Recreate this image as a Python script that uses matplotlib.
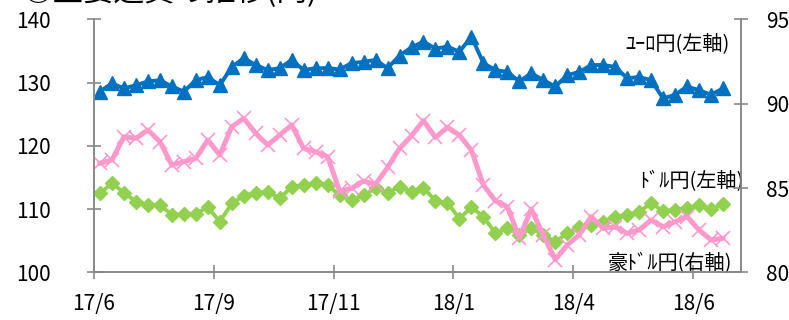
import numpy as np
import matplotlib
matplotlib.use("Agg")
import matplotlib.pyplot as plt

plt.rcParams['font.family'] = ['Noto Sans CJK JP', 'DejaVu Sans']

# weekly closes, left axis (yen)
usdjpy = [112.5, 114.1, 112.6, 111.2, 110.65, 110.65, 109.1, 109.2, 109.3, 110.3,
          108.0, 110.9, 112.1, 112.6, 112.75, 111.7, 113.5, 113.8, 114.2, 113.8,
          112.2, 111.4, 112.2, 113.3, 112.6, 113.5, 112.75, 113.4, 111.3, 111.0,
          108.5, 110.3, 108.8, 106.2, 107.0, 105.9, 107.0, 105.9, 104.8, 106.2,
          107.2, 107.5, 108.0, 108.8, 109.1, 109.6, 110.9, 109.7, 109.9, 110.1,
          110.65, 110.0, 110.8]
eurjpy = [128.6, 129.9, 129.1, 129.6, 130.2, 130.4, 129.4, 128.6, 130.4, 130.9,
          129.6, 132.5, 133.9, 132.8, 132.0, 132.3, 133.6, 132.0, 132.3, 132.3,
          132.1, 133.1, 133.3, 133.6, 132.3, 134.3, 135.6, 136.5, 135.4, 135.7,
          134.9, 137.3, 133.1, 132.0, 131.7, 130.2, 131.5, 130.4, 129.4, 131.2,
          131.7, 132.8, 132.8, 132.5, 130.7, 130.9, 130.4, 127.5, 128.1, 129.4,
          128.8, 128.1, 129.1]
# right axis
audjpy = [86.47, 86.66, 88.04, 87.95, 88.44, 87.75, 86.36, 86.56, 86.76, 87.85,
          86.96, 88.64, 89.13, 88.24, 87.55, 88.14, 88.74, 87.35, 87.15, 86.86,
          84.83, 84.98, 85.42, 85.23, 86.22, 87.35, 88.1, 89.0, 88.0, 88.6,
          88.14, 87.25, 85.18, 84.24, 83.89, 82.06, 83.75, 82.21, 80.75, 81.62,
          82.21, 83.30, 82.61, 82.70, 82.31, 82.51, 83.10, 82.70, 83.00, 83.30,
          82.51, 81.92, 82.02]
tick_labels = ["17/6", "17/9", "17/11", "18/1", "18/4", "18/6"]

x = np.arange(len(usdjpy))
axis_gray = "#898989"

fig = plt.figure(figsize=(7.89, 3.2), dpi=100)
ax = fig.add_axes([94/789, 1 - 272.3/320, (741 - 94)/789, (272.3 - 19.5)/320])
ax2 = ax.twinx()

ax.plot(x, usdjpy, "-", color="#92D050", lw=2.8, marker="D", ms=6.8,
        mec="#92D050", mfc="#92D050")
ax.plot(x, eurjpy, "-", color="#0070C0", lw=2.8, marker="^", ms=9.5,
        mec="#0070C0", mfc="#0070C0")
ax2.plot(x, audjpy, "-", color="#FF99CC", lw=3.6, marker="x", ms=10,
         mew=1.2, mec="#FF99CC")

ax.set_xlim(-0.5, 53.5)
ax.set_ylim(100, 140)
ax2.set_ylim(80, 95)
ax.set_yticks([100, 110, 120, 130, 140])
ax2.set_yticks([80, 85, 90, 95])
ax.set_xticks(np.arange(6)*10 - 0.5)
ax.set_xticklabels(tick_labels)

for a in (ax, ax2):
    a.spines["top"].set_visible(False)
    for s in ("left", "right", "bottom"):
        a.spines[s].set_color(axis_gray)
        a.spines[s].set_linewidth(1.2)
    a.tick_params(direction="inout", length=10, width=1.2, color=axis_gray,
                  labelsize=15, pad=4)
ax.tick_params(axis="y", pad=26)
ax.tick_params(axis="x", pad=10)
ax2.tick_params(axis="y", pad=13)

ax.text(0.983, 0.905, "ﾕｰﾛ円(左軸)", transform=ax.transAxes, ha="right",
        va="center", fontsize=14.5)
ax.text(1.004, 0.357, "ﾄﾞﾙ円(左軸)", transform=ax.transAxes, ha="right",
        va="center", fontsize=14.5)
ax.text(0.987, 0.036, "豪ﾄﾞﾙ円(右軸)", transform=ax.transAxes, ha="right",
        va="center", fontsize=14.5)

fig.text(22/789, 1 - 1/320, "○主要通貨の推移(円)", ha="left", va="baseline",
         fontsize=22)

fig.savefig("out.png", dpi=100)
